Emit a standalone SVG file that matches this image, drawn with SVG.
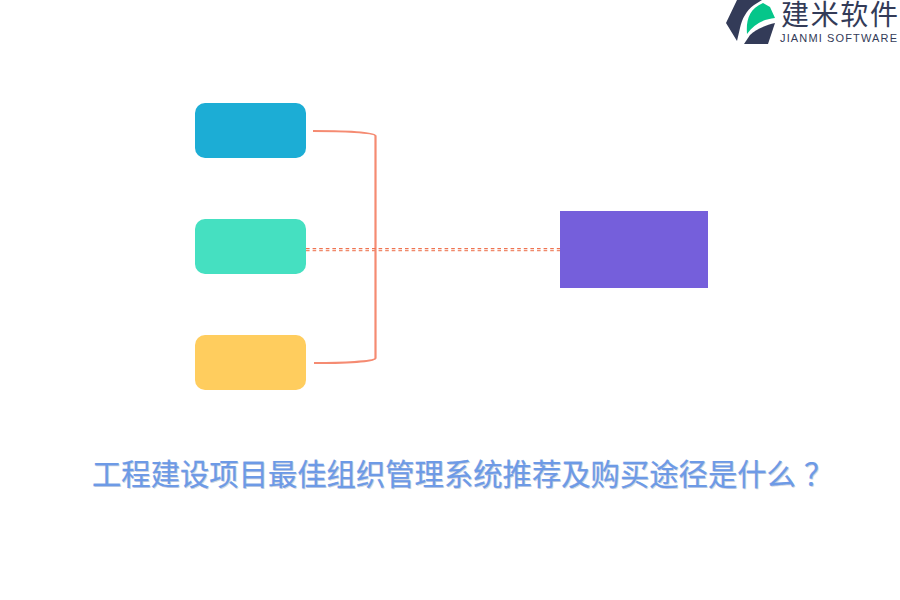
<svg xmlns="http://www.w3.org/2000/svg" width="900" height="600" viewBox="0 0 900 600">
<defs>
<style>
.cjk{font-family:"Noto Sans CJK SC","Liberation Sans",sans-serif}
.box{stroke:none}
.link{fill:none;stroke:#f58b72;stroke-width:2.2}
.title{font-size:29.33px;font-weight:400;fill:#6d9ae6;stroke:#6d9ae6;stroke-width:.25}
.shadow{font-size:29.33px;font-weight:400;fill:#9aa6bd;opacity:.45}
</style>
</defs>
<rect width="900" height="600" fill="#ffffff"/>
<g id="connectors">
<path class="link" d="M313 131C340 131 375.5 132 375.5 136V358C375.5 362 340 363 314 363"/>
<line x1="306" y1="248.7" x2="560" y2="248.7" stroke="#ef7350" stroke-width="1.3" stroke-dasharray="3.6 3"/>
<line x1="306" y1="250.7" x2="560" y2="250.7" stroke="#f08a6c" stroke-width="1.3" stroke-dasharray="3.6 3"/>
</g>
<g id="node-blue"><rect class="box" x="195" y="103" width="111" height="55" rx="10" fill="#1cadd5"/></g>
<g id="node-teal"><rect class="box" x="195" y="219" width="111" height="55" rx="10" fill="#45e0c1"/></g>
<g id="node-yellow"><rect class="box" x="195" y="335" width="111" height="55" rx="10" fill="#ffcd5e"/></g>
<g id="node-purple"><rect class="box" x="560" y="211" width="148" height="77" fill="#755fdb"/></g>
<g id="title">
<text class="cjk shadow" x="93" y="486">工程建设项目最佳组织管理系统推荐及购买途径是什么<tspan dx="8">？</tspan></text>
<text class="cjk title" x="92" y="485">工程建设项目最佳组织管理系统推荐及购买途径是什么<tspan dx="8">？</tspan></text>
</g>
<g id="logo">
<path d="M737 0H762L754 5C746 11 742 19 740 28L737 41L726 23Z" fill="#333b58"/>
<path d="M747 34C746 20 749 9 763 3L770 7L775 18C764 19 754 24 747 34Z" fill="#05c68a"/>
<path d="M744 44L750 35C756 29 766 25 775 23L768 44Z" fill="#333b58"/>
<text class="cjk" x="781" y="25" font-size="28" font-weight="400" fill="#333b58" textLength="117" lengthAdjust="spacing">建米软件</text>
<text x="780" y="42" font-family="'Liberation Sans',Arial,sans-serif" font-size="11" fill="#333b58" textLength="117" lengthAdjust="spacing">JIANMI SOFTWARE</text>
</g>
</svg>
